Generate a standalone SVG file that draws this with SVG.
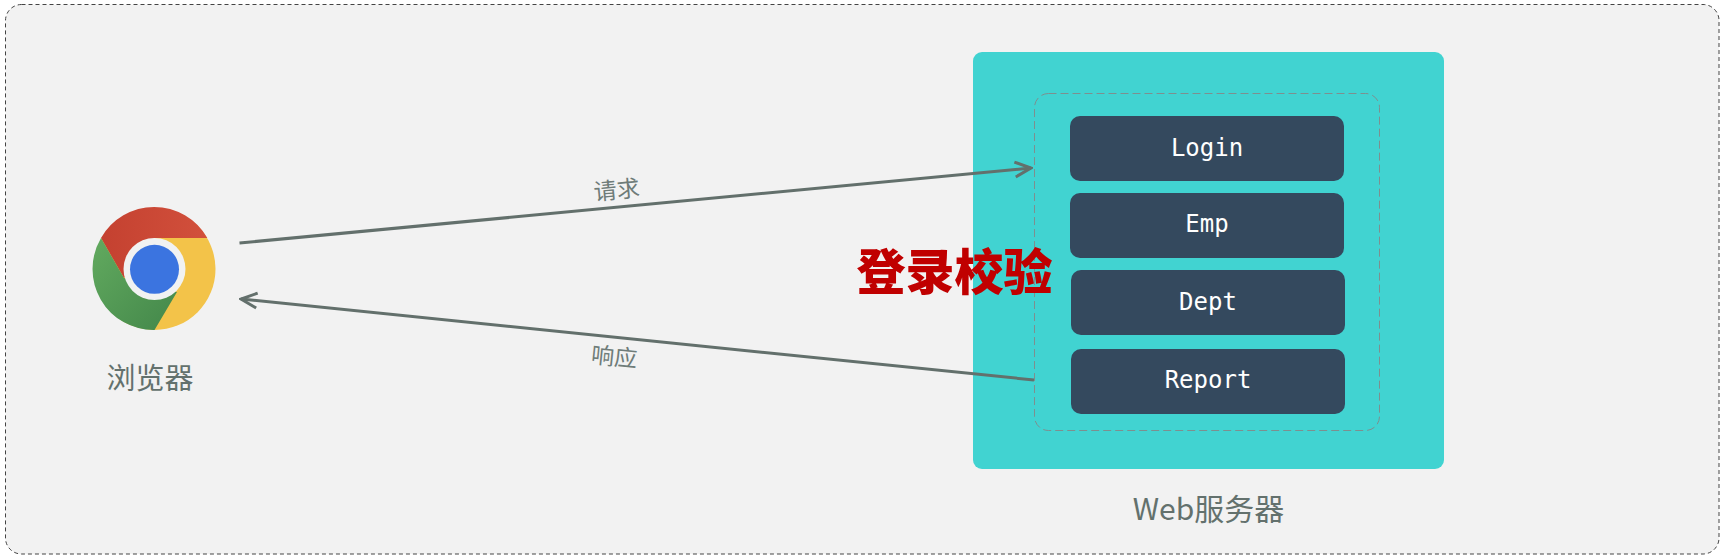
<svg xmlns="http://www.w3.org/2000/svg" width="1726" height="557" viewBox="0 0 1726 557">
<style>
.cn{font-family:"Noto Sans CJK SC","Noto Sans",sans-serif;fill:#63716d}
.lb{font-size:23px;fill:#6f7c79}
.box{fill:#34495e}
.bt{font-family:"DejaVu Sans Mono","Liberation Mono",monospace;font-size:24px;fill:#fff;text-anchor:middle}
.cl{fill:none;stroke:#63706c;stroke-width:3}
</style>
<defs>
<marker id="open" viewBox="0 0 20 20" refX="18" refY="10" markerWidth="20" markerHeight="20" markerUnits="userSpaceOnUse" orient="auto">
<path d="M2 2.500L18 10L2 17.500" fill="none" stroke="#63706c" stroke-width="3"/>
</marker>
<linearGradient id="gr" x1="0" y1="0" x2="1" y2="0"><stop offset="0" stop-color="#c44130"/><stop offset="1" stop-color="#d2503c"/></linearGradient>
<linearGradient id="gg" x1="0" y1="0" x2="1" y2="1"><stop offset="0" stop-color="#62aa5f"/><stop offset="1" stop-color="#43874a"/></linearGradient>
</defs>
<rect id="frame" x="5.5" y="4.500" width="1713.500" height="549.500" rx="16" fill="#f2f2f2" stroke="#444" stroke-width="1" stroke-dasharray="4 3"/>
<g id="browser">
<circle cx="154.500" cy="269" r="61" fill="#f3c349"/>
<path d="M101 238A61 61 0 0 1 207.300 238H154L124 278Z" fill="url(#gr)"/>
<path d="M101 238A61 61 0 0 0 154.500 330L177 292L124 278Z" fill="url(#gg)"/>
<circle cx="154.500" cy="269" r="31" fill="#f1f2f2"/>
<circle cx="154.500" cy="269.300" r="24.500" fill="#3b74e0"/>
<text class="cn" x="150" y="389" font-size="29" text-anchor="middle">浏览器</text>
</g>
<g id="server">
<rect x="973" y="52" width="471" height="417" rx="9" fill="#41d3d1"/>
<rect x="1034.500" y="93.500" width="345" height="337" rx="14" fill="none" stroke="#7d8f8f" stroke-width="1" stroke-dasharray="8 4"/>
<text class="cn" x="1208.500" y="520" font-size="30" text-anchor="middle">Web服务器</text>
</g>
<g id="login"><rect class="box" x="1070" y="116" width="274" height="65" rx="10"/><text class="bt" x="1207" y="156">Login</text></g>
<g id="emp"><rect class="box" x="1070" y="193" width="274" height="65" rx="10"/><text class="bt" x="1207" y="232">Emp</text></g>
<g id="dept"><rect class="box" x="1071" y="270" width="274" height="65" rx="10"/><text class="bt" x="1208" y="310">Dept</text></g>
<g id="report"><rect class="box" x="1071" y="349" width="274" height="65" rx="10"/><text class="bt" x="1208" y="388">Report</text></g>
<g id="connectors">
<path class="cl" d="M239.500 243L1031 168" marker-end="url(#open)"/>
<path class="cl" d="M1034 380L241 299" marker-end="url(#open)"/>
<text class="cn lb" transform="translate(617.500 198) rotate(-5.400)" text-anchor="middle">请求</text>
<text class="cn lb" transform="translate(613.500 365) rotate(5.800)" text-anchor="middle">响应</text>
</g>
<text id="note" x="954.500" y="290" font-family="Noto Sans CJK SC,sans-serif" font-weight="900" font-size="49" fill="#c00000" text-anchor="middle">登录校验</text>
</svg>
